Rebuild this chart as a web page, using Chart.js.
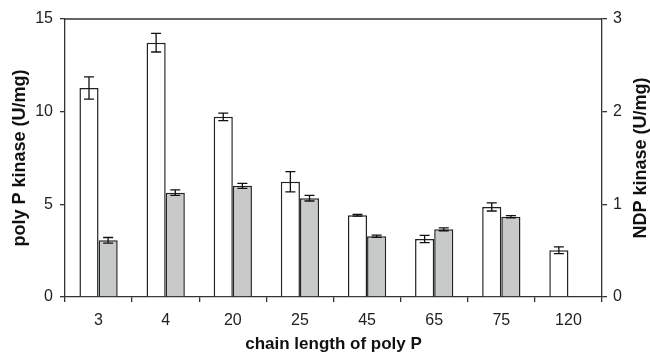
<!DOCTYPE html>
<html>
<head>
<meta charset="utf-8">
<script src="https://cdn.jsdelivr.net/npm/chart.js@4"></script>
<style>
  html, body { margin: 0; padding: 0; background: #fff; }
  #wrap { width: 650px; height: 356px; }
</style>
</head>
<body>
<div id="wrap"><canvas id="chart"></canvas></div>
<script>
// chain lengths of poly P
const chainLengths = ['3', '4', '20', '25', '45', '65', '75', '120'];
// poly P kinase activity (U/mg), left axis
const polyPKinase = [11.28, 13.72, 9.72, 6.22, 4.41, 3.13, 4.86, 2.52];
const polyPKinaseErr = [0.6, 0.5, 0.2, 0.55, 0.05, 0.2, 0.22, 0.18];
// NDP kinase activity (U/mg), right axis
const ndpKinase = [0.612, 1.126, 1.20, 1.066, 0.655, 0.73, 0.867, null];
const ndpKinaseErr = [0.03, 0.03, 0.027, 0.03, 0.012, 0.015, 0.012, 0];

const leftTicks = [0, 5, 10, 15];
const rightTicks = [0, 1, 2, 3];

const axisColor = '#333';
const family = "'Liberation Sans', Arial, sans-serif";
const tickFont = { family: family, size: 16 };
const xTitleFont = { family: family, size: 17, weight: 'bold' };
const yTitleFont = { family: family, size: 18, weight: 'bold' };

// error bars drawn from the dataset values through the y scales
const errorBarPlugin = {
    id: 'errorBars',
    afterDatasetsDraw(chart) {
        const ctx = chart.ctx;
        chart.data.datasets.forEach((ds, i) => {
            const meta = chart.getDatasetMeta(i);
            const yScale = chart.scales[ds.yAxisID];
            meta.data.forEach((bar, j) => {
                const v = ds.data[j];
                const e = ds.errors[j];
                if (v == null || !e) return;
                const yTop = yScale.getPixelForValue(v + e);
                const yBot = yScale.getPixelForValue(v - e);
                const x = bar.x;
                ctx.save();
                ctx.strokeStyle = '#111';
                ctx.lineWidth = 1.3;
                ctx.beginPath();
                ctx.moveTo(x, yTop); ctx.lineTo(x, yBot);
                ctx.moveTo(x - 5, yTop); ctx.lineTo(x + 5, yTop);
                ctx.moveTo(x - 5, yBot); ctx.lineTo(x + 5, yBot);
                ctx.stroke();
                ctx.restore();
            });
        });
    }
};

// top frame line + right axis title (reads bottom to top like the left one)
const framePlugin = {
    id: 'frame',
    afterDraw(chart) {
        const a = chart.chartArea;
        const ctx = chart.ctx;
        ctx.save();
        ctx.strokeStyle = axisColor;
        ctx.lineWidth = 1.3;
        ctx.beginPath();
        ctx.moveTo(a.left, a.top);
        ctx.lineTo(a.right, a.top);
        ctx.stroke();

        ctx.translate(641, (a.top + a.bottom) / 2);
        ctx.rotate(-Math.PI / 2);
        ctx.fillStyle = '#111';
        ctx.font = 'bold 18px ' + family;
        ctx.textAlign = 'center';
        ctx.textBaseline = 'middle';
        ctx.fillText('NDP kinase (U/mg)', 0, 0);
        ctx.restore();
    }
};

new Chart(document.getElementById('chart'), {
    type: 'bar',
    data: {
        labels: chainLengths,
        datasets: [
            {
                label: 'poly P kinase',
                data: polyPKinase,
                errors: polyPKinaseErr,
                yAxisID: 'y',
                backgroundColor: '#ffffff',
                borderColor: '#222',
                borderWidth: 1.5
            },
            {
                label: 'NDP kinase',
                data: ndpKinase,
                errors: ndpKinaseErr,
                yAxisID: 'y1',
                backgroundColor: '#c8c9c9',
                borderColor: '#222',
                borderWidth: 1.5
            }
        ]
    },
    options: {
        responsive: true,
        maintainAspectRatio: false,
        animation: false,
        categoryPercentage: 0.57,
        barPercentage: 1.0,
        layout: { padding: { top: 19, left: 0, right: 0, bottom: 0 } },
        plugins: {
            legend: { display: false },
            tooltip: { enabled: false }
        },
        scales: {
            x: {
                grid: { display: true, offset: true, drawOnChartArea: false, tickLength: 5, color: axisColor, lineWidth: 1.3 },
                border: { color: axisColor, width: 1.3 },
                ticks: { font: tickFont, color: '#222', padding: 9 },
                title: { display: true, text: 'chain length of poly P', font: xTitleFont, color: '#111', padding: { top: 0, bottom: 1 } },
                afterFit(scale) { scale.height = 59; }
            },
            y: {
                position: 'left',
                min: 0, max: 15,
                afterBuildTicks(scale) { scale.ticks = leftTicks.map(v => ({ value: v })); },
                grid: { display: true, drawOnChartArea: false, tickLength: 5, color: axisColor, lineWidth: 1.3 },
                border: { color: axisColor, width: 1.3 },
                ticks: { font: tickFont, color: '#222', padding: 7 },
                title: { display: true, text: 'poly P kinase (U/mg)', font: yTitleFont, color: '#111', padding: { top: 9, bottom: 0 } },
                afterFit(scale) { scale.width = 65; }
            },
            y1: {
                position: 'right',
                min: 0, max: 3,
                afterBuildTicks(scale) { scale.ticks = rightTicks.map(v => ({ value: v })); },
                grid: { display: true, drawOnChartArea: false, tickLength: 5, color: axisColor, lineWidth: 1.3 },
                border: { color: axisColor, width: 1.3 },
                ticks: { font: tickFont, color: '#222', padding: 6 },
                title: { display: false },
                afterFit(scale) { scale.width = 48; }
            }
        }
    },
    plugins: [errorBarPlugin, framePlugin]
});
</script>
</body>
</html>
